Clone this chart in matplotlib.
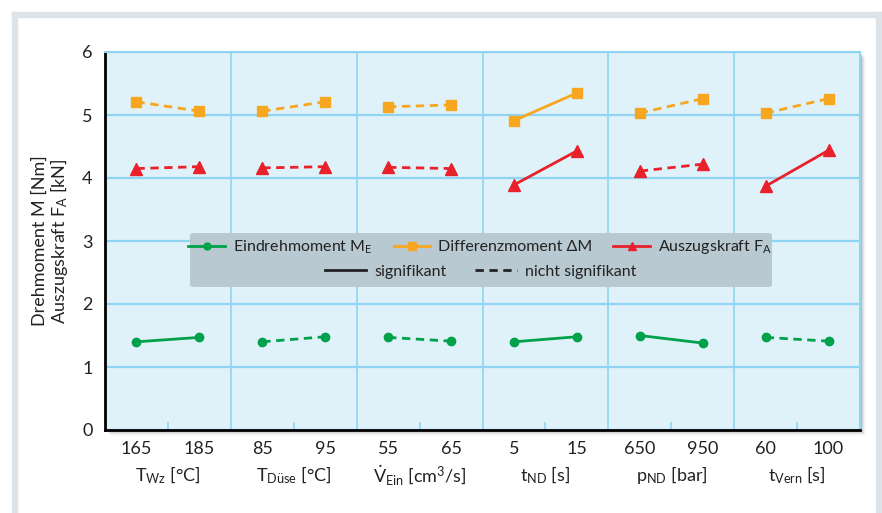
import matplotlib
matplotlib.use("Agg")
import matplotlib.pyplot as plt
import matplotlib.transforms as mtransforms
from matplotlib.lines import Line2D
from matplotlib.patches import Rectangle, FancyBboxPatch

plt.rcParams['font.family'] = ['Lato', 'DejaVu Sans']
plt.rcParams['mathtext.fontset'] = 'custom'
plt.rcParams['mathtext.rm'] = 'Lato'
plt.rcParams['mathtext.it'] = 'Lato:italic'
plt.rcParams['mathtext.bf'] = 'Lato:bold'

# Faktoren und Stufen
faktoren = [r'T$_\mathrm{Wz}$ [°C]', r'T$_\mathrm{Düse}$ [°C]',
            r'$\dot{\mathrm{V}}_\mathrm{Ein}$ [cm$^3$/s]', r't$_\mathrm{ND}$ [s]',
            r'p$_\mathrm{ND}$ [bar]', r't$_\mathrm{Vern}$ [s]']
stufen = [['165', '185'], ['85', '95'], ['55', '65'], ['5', '15'], ['650', '950'], ['60', '100']]

# Messwerte (niedrige / hohe Stufe)
eindrehmoment = [[1.40, 1.47], [1.40, 1.48], [1.47, 1.41], [1.40, 1.48], [1.50, 1.38], [1.47, 1.41]]
differenzmoment = [[5.21, 5.06], [5.06, 5.21], [5.13, 5.16], [4.91, 5.35], [5.03, 5.26], [5.03, 5.26]]
auszugskraft = [[4.15, 4.18], [4.16, 4.18], [4.17, 4.15], [3.89, 4.43], [4.11, 4.22], [3.87, 4.44]]

# signifikant ja/nein je Faktor
sig_me = [True, False, False, True, True, False]
sig_dm = [False, False, False, True, False, False]
sig_fa = [False, False, False, True, False, True]

gruen = '#00a14b'
orange = '#f7a620'
rot = '#e8212b'
hellblau = '#8fd4f2'

fig = plt.figure(figsize=(8.82, 5.13), dpi=100)
W, H = 882, 513

# Rahmen um die Grafik
rahmen = '#dce4ea'
fig.add_artist(Rectangle((12 / W, 0), 5 / W, 1 - 12 / H, transform=fig.transFigure,
                         color=rahmen, zorder=-5))
fig.add_artist(Rectangle((12 / W, 1 - 17 / H), 1 - 12 / W, 5 / H, transform=fig.transFigure,
                         color=rahmen, zorder=-5))
fig.add_artist(Rectangle((876 / W, 0), 6 / W, 1 - 12 / H, transform=fig.transFigure,
                         color=rahmen, zorder=-5))

x0, x1, y0, y1 = 105, 860, 430, 52
ax = fig.add_axes([x0 / W, 1 - y0 / H, (x1 - x0) / W, (y0 - y1) / H])
ax.set_facecolor('#e0f2f9')

# weicher Schatten rechts/unten
for i, a in enumerate([0.14, 0.10, 0.07, 0.05, 0.03, 0.02]):
    d = i + 1
    fig.add_artist(Rectangle(((x0 + d) / W, 1 - (y0 + d) / H), (x1 - x0) / W, (y0 - y1) / H,
                             transform=fig.transFigure, color='black', alpha=a,
                             lw=0, zorder=-2))

for i in range(len(faktoren)):
    xs = [i + 0.25, i + 0.75]
    for werte, sig, farbe, marker, ms in [(eindrehmoment, sig_me, gruen, 'o', 6),
                                          (differenzmoment, sig_dm, orange, 's', 7),
                                          (auszugskraft, sig_fa, rot, '^', 8)]:
        ax.plot(xs, werte[i], color=farbe, lw=2, ls='-' if sig[i] else (0, (3, 2)),
                marker=marker, ms=ms, zorder=4)

ax.set_xlim(0, 6)
ax.set_ylim(0, 6)
ax.set_yticks(range(7))
ax.yaxis.grid(True, color=hellblau, lw=1.6)
for b in range(1, 6):
    ax.axvline(b, color=hellblau, lw=1.2, zorder=1)
ax.set_axisbelow(True)

pos = [i + d for i in range(len(faktoren)) for d in (0.25, 0.75)]
ax.set_xticks(pos)
ax.set_xticklabels([s for paar in stufen for s in paar])
ax.set_xticks([i + 0.5 for i in range(6)], minor=True)
ax.tick_params(axis='x', which='major', length=0, pad=8, labelsize=13, colors='#222222')
ax.tick_params(axis='x', which='minor', direction='in', length=6, color=hellblau, width=1.2)
ax.tick_params(axis='y', length=0, pad=9, labelsize=13, colors='#222222')

trans = mtransforms.blended_transform_factory(ax.transData, ax.transAxes)
for i, f in enumerate(faktoren):
    ax.text(i + 0.5, -0.12, f, transform=trans, ha='center', va='center',
            fontsize=13, color='#222222')

ax.set_ylabel('Drehmoment M [Nm]\nAuszugskraft F$_\\mathrm{A}$ [kN]', fontsize=13,
              color='#222222', linespacing=1.0)
ax.yaxis.set_label_coords(-0.046, 0.5)

for s in ['left', 'bottom']:
    ax.spines[s].set_color('black')
    ax.spines[s].set_linewidth(2)
for s in ['top', 'right']:
    ax.spines[s].set_color(hellblau)
    ax.spines[s].set_linewidth(1.5)

# Legende in grauem Kasten
bx0, bx1 = (190 - x0) / (x1 - x0), (772 - x0) / (x1 - x0)
by0, by1 = (y0 - 287) / (y0 - y1), (y0 - 233) / (y0 - y1)
ax.add_patch(FancyBboxPatch((bx0, by0), bx1 - bx0, by1 - by0, transform=ax.transAxes,
                            boxstyle='round,pad=0,rounding_size=0.006', facecolor='#b9c9d1',
                            edgecolor='none', zorder=5))

h1 = [Line2D([], [], color=gruen, lw=2, marker='o', ms=5),
      Line2D([], [], color=orange, lw=2, marker='s', ms=6),
      Line2D([], [], color=rot, lw=2, marker='^', ms=6)]
l1 = ['Eindrehmoment M$_\\mathrm{E}$', 'Differenzmoment ΔM', 'Auszugskraft F$_\\mathrm{A}$']
leg1 = ax.legend(h1, l1, loc='center', bbox_to_anchor=(0.497, 0.483), ncol=3, frameon=False,
                 fontsize=11.5, handlelength=2.3, columnspacing=1.3, handletextpad=0.5,
                 borderpad=0)
for t in leg1.get_texts():
    t.set_color('#222222')
leg1.set_zorder(6)
ax.add_artist(leg1)

h2 = [Line2D([], [], color='#222222', lw=2),
      Line2D([], [], color='#222222', lw=2, ls=(0, (3, 2)))]
leg2 = ax.legend(h2, ['signifikant', 'nicht signifikant'], loc='center',
                 bbox_to_anchor=(0.497, 0.418), ncol=2, frameon=False, fontsize=11.5,
                 handlelength=2.6, columnspacing=1.8, handletextpad=0.5, borderpad=0)
for t in leg2.get_texts():
    t.set_color('#222222')
leg2.set_zorder(6)

fig.savefig('out.png', dpi=100)
